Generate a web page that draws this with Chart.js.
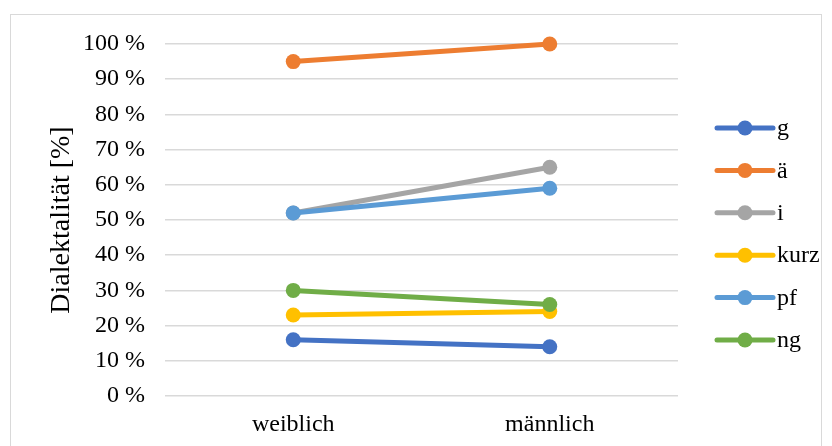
<!DOCTYPE html>
<html lang="de">
<head>
  <meta charset="UTF-8">
  <title>Dialektalität</title>
  <script src="https://cdn.jsdelivr.net/npm/chart.js"></script>
  <style>
    body {
      margin: 0;
      background: #fff;
    }

    #chart-box {
      position: absolute;
      left: 10px;
      top: 14px;
      width: 810px;
      height: 440px;
      border: 1px solid #d9d9d9;
    }
  </style>
</head>
<body>
  <div id="chart-box">
    <canvas id="dialectChart" width="810" height="440"></canvas>
  </div>
  <script>
    const categories = ["weiblich", "männlich"];
    const seriesNames = ["g", "ä", "i", "kurz", "pf", "ng"];
    const seriesColors = ["#4472C4", "#ED7D31", "#A5A5A5", "#FFC000", "#5B9BD5", "#70AD47"];
    const gValues = [16, 14];
    const aeValues = [95, 100];
    const iValues = [52, 65];
    const kurzValues = [23, 24];
    const pfValues = [52, 59];
    const ngValues = [30, 26];
    const seriesValues = [gValues, aeValues, iValues, kurzValues, pfValues, ngValues];

    const serif = "'Liberation Serif', 'Times New Roman', serif";

    // Excel-artige Legende rechts: Linie mit Punkt, dann Text
    const sideLegend = {
      id: "sideLegend",
      afterDraw(chart) {
        const ctx = chart.ctx;
        const area = chart.chartArea;
        const sets = chart.data.datasets;
        const gap = 42.4;
        const x0 = area.right + 39;
        const len = 56;
        const yStart = (area.top + area.bottom) / 2 - gap * (sets.length - 1) / 2 + 14;
        ctx.save();
        ctx.font = "24px " + serif;
        ctx.textBaseline = "middle";
        sets.forEach((ds, i) => {
          const y = yStart + i * gap;
          ctx.strokeStyle = ds.borderColor;
          ctx.lineWidth = 5;
          ctx.lineCap = "round";
          ctx.beginPath();
          ctx.moveTo(x0, y);
          ctx.lineTo(x0 + len, y);
          ctx.stroke();
          ctx.beginPath();
          ctx.fillStyle = ds.borderColor;
          ctx.arc(x0 + len / 2, y, 7.5, 0, Math.PI * 2);
          ctx.fill();
          ctx.fillStyle = "#000";
          ctx.fillText(ds.label, x0 + len + 4, y + 1);
        });
        ctx.restore();
      }
    };

    const ctx = document.getElementById("dialectChart").getContext("2d");

    new Chart(ctx, {
      type: "line",
      data: {
        labels: categories,
        datasets: seriesNames.map((name, i) => ({
          label: name,
          data: seriesValues[i],
          borderColor: seriesColors[i],
          backgroundColor: seriesColors[i],
          borderWidth: 5,
          pointRadius: 7.5,
          pointHoverRadius: 7.5,
          pointBorderWidth: 0,
          clip: false,
          order: seriesNames.length - i,
        })),
      },
      options: {
        responsive: false,
        animation: false,
        layout: {
          padding: { left: 30, right: 143, top: 29, bottom: 9 },
        },
        plugins: {
          legend: { display: false },
          tooltip: { enabled: false },
        },
        scales: {
          x: {
            offset: true,
            grid: { display: false },
            border: { display: false },
            ticks: {
              padding: 6,
              color: "#000",
              font: { family: serif, size: 24 },
            },
            afterFit(scale) {
              scale.height = 50;
            },
          },
          y: {
            min: 0,
            max: 100,
            ticks: {
              stepSize: 10,
              padding: 20,
              color: "#000",
              font: { family: serif, size: 24 },
              callback: (v) => v + " %",
            },
            grid: {
              color: "#d9d9d9",
              lineWidth: 1.5,
              drawTicks: false,
            },
            border: { display: false },
            title: {
              display: true,
              text: "Dialektalität [%]",
              color: "#000",
              padding: { top: 4, bottom: 0 },
              font: { family: serif, size: 28 },
            },
            afterFit(scale) {
              scale.width = 124;
              scale.paddingTop = 0;
              scale.paddingBottom = 0;
            },
          },
        },
      },
      plugins: [sideLegend],
    });
  </script>
</body>
</html>
